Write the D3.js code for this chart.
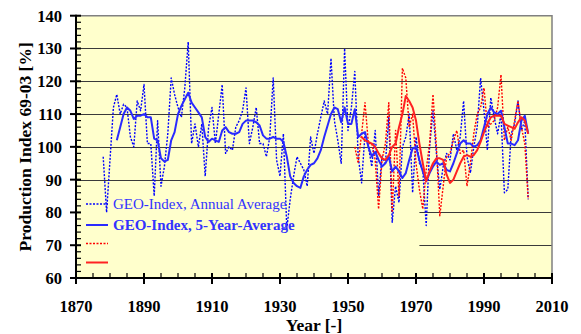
<!DOCTYPE html>
<html>
<head>
<meta charset="utf-8">
<script src="https://cdn.jsdelivr.net/npm/d3@7"></script>
<style>
  body { margin: 0; background: #fff; }
  svg { display: block; }
</style>
</head>
<body>
<svg id="chart" width="581" height="334"></svg>
<script>
// --- data ---
const blueAnnualStart = 1878;
const blueAnnual = [97, 80, 96, 112, 116, 110, 113, 112, 103, 100, 114, 111, 119, 101, 101, 85, 108, 88, 94, 104,
  121, 116, 112, 109, 118, 132, 101, 107, 100, 107, 91, 106, 112, 101, 110, 119, 98, 100, 99, 106,
  108, 111, 118, 101, 106, 112, 101, 101, 97, 103, 121, 96, 91, 104, 75, 84, 91, 97, 95, 93,
  88, 103, 98, 104, 109, 114, 110, 127, 108, 102, 95, 130, 105, 112, 123, 97, 89, 104, 100, 94,
  105, 85, 97, 95, 109, 77, 88, 83, 100, 103, 110, 86, 103, 95, 93, 76, 100, 111, 98, 87,
  94, 98, 96, 104, 99, 103, 114, 97, 92, 100, 106, 121, 111, 99, 115, 109, 104, 110, 86, 87,
  104, 107, 114, 105, 108, 84];

const blueAvgStart = 1882;
const blueAvg = [102, 106, 110, 112, 111, 108.5, 109.5, 109.5, 110, 109, 109, 102.5, 102, 96.5, 95.5, 96, 102, 104.5,
  110, 112.5, 114.5, 116.5, 113.5, 112, 110.5, 109, 103, 101.5, 102.5, 102, 101.5, 105, 106, 104.5, 104, 104,
  104.5, 107, 108, 108, 108, 107.5, 106.5, 103.5, 102.5, 102.5, 103, 102.5, 102.5, 101.5, 97, 91, 89, 88,
  87.5, 91, 93, 94.5, 95, 96.5, 99, 103, 106.5, 110, 112, 111.5, 107.5, 112, 107, 107, 111.5, 103,
  104, 104.5, 100, 97, 98.5, 96, 94, 95, 97, 92.5, 94, 92.5, 90.5, 92, 96, 99.5, 100, 96,
  92.5, 89.5, 92, 94, 95.5, 94.5, 95, 93, 92.5, 95, 98, 101, 102, 101, 101, 100, 100.5, 102,
  106, 110, 112, 110.5, 110, 111, 106, 101, 101, 100.5, 102, 108, 109.5, 104];

const redAnnualStart = 1952;
const redAnnual = [100, 95, 104, 113.5, 101, 101, 96, 81, 96, 101, 113.5, 80, 105, 85, 124, 121, 106, 110, 95, 87,
  81, 93, 101, 116, 100, 79, 88, 97, 98, 102, 105, 98, 99, 88, 95, 104, 110, 112, 118, 106,
  107, 108, 112, 122, 102, 106, 102, 108, 114, 106, 101, 84];

const redAvgStart = 1954;
const redAvg = [103, 102, 101.5, 101, 100, 98, 96.5, 96, 97.5, 100, 101, 106, 110, 115.5, 114, 112, 108, 101,
  95, 89.5, 92.5, 95, 96.5, 96.5, 96, 91.5, 89, 90, 92.5, 95, 97, 97.5, 97, 97.5, 99, 101.5,
  104.5, 107, 109, 109.5, 109.5, 109.5, 107, 106.5, 106, 105.5, 107.5, 109, 108, 104];

const yTicks = [60, 70, 80, 90, 100, 110, 120, 130, 140];
const xTicks = [1870, 1890, 1910, 1930, 1950, 1970, 1990, 2010];
const legendLabels = ["GEO-Index, Annual Average", "GEO-Index, 5-Year-Average", "", ""];

const font = (size, bold) => `${bold ? "bold" : "normal"} ${size}px 'Liberation Serif'`;
const toPoints = (start, vals) => vals.map((v, i) => ({ year: start + i, value: v }));

const svg = d3.select("#chart");
const x = d3.scaleLinear().domain([1870, 2010]).range([76, 552]);
const y = d3.scaleLinear().domain([60, 140]).range([278, 15.7]);

// plot background
svg.append("rect")
  .attr("x", x(1870)).attr("y", y(140))
  .attr("width", x(2010) - x(1870)).attr("height", y(60) - y(140))
  .attr("fill", "#FFFFCC");

// grid lines (70 and 80 are hidden behind the legend on the left)
svg.append("g").selectAll("line")
  .data(yTicks.filter(t => t > 60 && t < 140))
  .join("line")
  .attr("x1", d => d <= 80 ? x(1971) : x(1870))
  .attr("x2", x(2010))
  .attr("y1", d => Math.round(y(d)) + 0.5)
  .attr("y2", d => Math.round(y(d)) + 0.5)
  .attr("stroke", "#3a3a3a")
  .attr("stroke-width", 1.2);

// top / right frame
svg.append("path")
  .attr("d", `M${x(1870)},${y(140)}H${x(2010)}V${y(60)}`)
  .attr("fill", "none").attr("stroke", "#808080").attr("stroke-width", 1.5);

const line = d3.line().x(d => x(d.year)).y(d => y(d.value));

function drawSeries(data, color, width, dash) {
  svg.append("path")
    .datum(data)
    .attr("d", line)
    .attr("fill", "none")
    .attr("stroke", color)
    .attr("stroke-width", width)
    .attr("stroke-dasharray", dash)
    .attr("stroke-linejoin", "round");
}

drawSeries(toPoints(blueAnnualStart, blueAnnual), "#0000FF", 1.4, "2,1.5");
drawSeries(toPoints(redAnnualStart, redAnnual), "#FF0000", 1.4, "2,1.5");
drawSeries(toPoints(blueAvgStart, blueAvg), "#2a2aff", 2, null);
drawSeries(toPoints(redAvgStart, redAvg), "#FF2222", 2, null);

// legend
const legendItems = [
  { color: "#0000FF", dash: "2,1.5", width: 1.4, bold: false, text: legendLabels[0], y: 204 },
  { color: "#2a2aff", dash: null, width: 2, bold: true, text: legendLabels[1], y: 225 },
  { color: "#FF0000", dash: "2,1.5", width: 1.4, bold: false, text: legendLabels[2], y: 243.5 },
  { color: "#FF2222", dash: null, width: 2, bold: false, text: legendLabels[3], y: 262.5 }
];
const leg = svg.append("g").selectAll("g").data(legendItems).join("g");
leg.append("line")
  .attr("x1", 86).attr("x2", 108)
  .attr("y1", d => d.y).attr("y2", d => d.y)
  .attr("stroke", d => d.color)
  .attr("stroke-width", d => d.width)
  .attr("stroke-dasharray", d => d.dash);
leg.append("text")
  .attr("x", 113).attr("y", d => d.y + 5)
  .style("font", d => font(15, d.bold))
  .attr("fill", "#3333FF")
  .text(d => d.text);

// y axis
const yAxis = svg.append("g");
yAxis.append("line")
  .attr("x1", 76).attr("x2", 76).attr("y1", y(140) - 1).attr("y2", y(60) + 1)
  .attr("stroke", "#000").attr("stroke-width", 2);
yAxis.selectAll(".minor")
  .data(d3.range(60, 141, 2))
  .join("line")
  .attr("x1", d => d % 10 === 0 ? 70 : 76).attr("x2", 81)
  .attr("y1", d => y(d)).attr("y2", d => y(d))
  .attr("stroke", "#000").attr("stroke-width", d => d % 10 === 0 ? 2 : 1.2);
yAxis.selectAll("text")
  .data(yTicks)
  .join("text")
  .attr("x", 62).attr("y", d => y(d))
  .attr("dy", "0.36em")
  .attr("text-anchor", "end")
  .style("font", font(16.5, true))
  .text(d => d);

// x axis
const xAxis = svg.append("g");
xAxis.append("line")
  .attr("x1", 75).attr("x2", x(2010) + 1).attr("y1", y(60)).attr("y2", y(60))
  .attr("stroke", "#000").attr("stroke-width", 2);
xAxis.selectAll(".tick")
  .data(d3.range(1870, 2011, 5))
  .join("line")
  .attr("x1", d => x(d)).attr("x2", d => x(d))
  .attr("y1", 273)
  .attr("y2", d => xTicks.includes(d) ? 284 : 278)
  .attr("stroke", "#000").attr("stroke-width", d => xTicks.includes(d) ? 2 : 1.2);
xAxis.selectAll("text")
  .data(xTicks)
  .join("text")
  .attr("x", d => x(d)).attr("y", 311.5)
  .attr("text-anchor", "middle")
  .style("font", font(16.5, true))
  .text(d => d);

// axis titles
svg.append("text")
  .attr("x", x(1940)).attr("y", 331)
  .attr("text-anchor", "middle")
  .style("font", font(17.5, true))
  .text("Year [-]");
svg.append("text")
  .attr("transform", `translate(30.5,${(y(60) + y(140)) / 2}) rotate(-90)`)
  .attr("text-anchor", "middle")
  .style("font", font(17.5, true))
  .text("Production Index 69-03 [%]");
</script>
</body>
</html>
